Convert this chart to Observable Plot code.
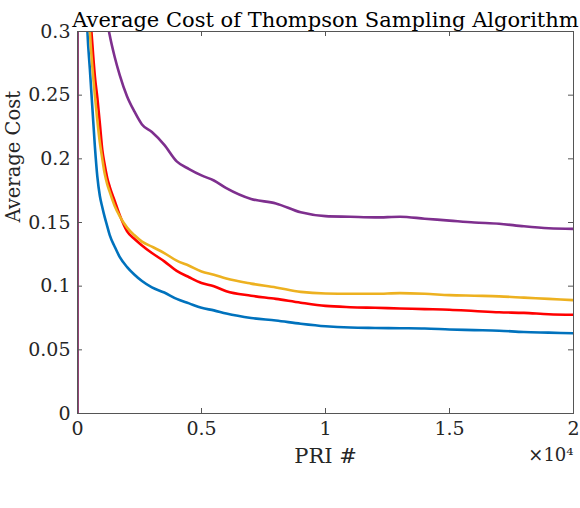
<!DOCTYPE html>
<html><head><meta charset="utf-8">
<script src="https://cdn.jsdelivr.net/npm/d3@7"></script>
<script src="https://cdn.jsdelivr.net/npm/@observablehq/plot@0.6"></script>
<style>
body{margin:0;background:#fff}
#chart svg{font-family:"DejaVu Serif", serif; background:#fff}
</style>
</head><body><div id="chart"></div>
<script>
// PRI sample positions
const pri = [0, 1, 150, 300, 400, 500, 600, 700, 800, 900, 1000, 1100, 1200, 1300, 1500, 1700, 2000, 2300, 2600, 3000, 3500, 4000, 4500, 5000, 5500, 6000, 7000, 8000, 9000, 10000, 11000, 12000, 13000, 14000, 15000, 16000, 17000, 18000, 19000, 20000];
// Average cost, series 1..4
const costBlue   = [0, 1.0, 0.60, 0.36, 0.30, 0.27, 0.24, 0.21, 0.186, 0.171, 0.162, 0.154, 0.147, 0.140, 0.131, 0.123, 0.115, 0.109, 0.104, 0.099, 0.095, 0.090, 0.0865, 0.083, 0.081, 0.0785, 0.075, 0.073, 0.0705, 0.0685, 0.0675, 0.0672, 0.067, 0.0668, 0.066, 0.0655, 0.065, 0.064, 0.0635, 0.063];
const costRed    = [0, 1.0, 0.85, 0.50, 0.38, 0.32, 0.29, 0.265, 0.248, 0.228, 0.207, 0.195, 0.185, 0.178, 0.167, 0.156, 0.143, 0.137, 0.132, 0.126, 0.1195, 0.112, 0.107, 0.1025, 0.100, 0.096, 0.0925, 0.090, 0.087, 0.0845, 0.0835, 0.083, 0.0825, 0.082, 0.0815, 0.0805, 0.0795, 0.079, 0.078, 0.0775];
const costYellow = [0, 1.0, 0.80, 0.45, 0.35, 0.30, 0.272, 0.25, 0.23, 0.213, 0.200, 0.188, 0.180, 0.174, 0.163, 0.155, 0.146, 0.140, 0.135, 0.131, 0.126, 0.120, 0.116, 0.1115, 0.109, 0.106, 0.102, 0.099, 0.0955, 0.0942, 0.094, 0.094, 0.0945, 0.094, 0.093, 0.0925, 0.092, 0.091, 0.090, 0.089];
const costPurple = [0, 1.0, 0.95, 0.75, 0.62, 0.54, 0.48, 0.43, 0.40, 0.37, 0.345, 0.325, 0.308, 0.297, 0.280, 0.266, 0.249, 0.237, 0.227, 0.221, 0.211, 0.198, 0.192, 0.187, 0.183, 0.177, 0.1685, 0.165, 0.158, 0.155, 0.1545, 0.154, 0.1545, 0.153, 0.1515, 0.150, 0.149, 0.147, 0.1455, 0.145];
const seriesColors = ["#0072BD", "#FF0000", "#EDB120", "#7E2F8E"];
const xTicks = [0, 5000, 10000, 15000, 20000];
const yTicks = [0, 0.05, 0.1, 0.15, 0.2, 0.25, 0.3];
const titleText = "Average Cost of Thompson Sampling Algorithm";
const xLabel = "PRI #";
const yLabel = "Average Cost";
const xMult = "×10⁴";

const W = 580, H = 508;
const mL = 77, mR = 7, mT = 31, mB = 95;
const pw = W - mL - mR, ph = H - mT - mB;

const series = [costBlue, costRed, costYellow, costPurple];
const lineMarks = series.map((vals, i) =>
  Plot.line(pri.map((p, j) => ({x: p, y: vals[j]})), {x: "x", y: "y", stroke: seriesColors[i], strokeWidth: 2.6, clip: true, strokeLinejoin: "round", curve: "monotone-x"})
);
const axisColor = "#555";
const fs = 19;

const chart = Plot.plot({
  width: W, height: H,
  marginLeft: mL, marginRight: mR, marginTop: mT, marginBottom: mB,
  style: {fontSize: fs + "px", color: "#262626"},
  x: {domain: [0, 20000]},
  y: {domain: [0, 0.3]},
  marks: [
    ...lineMarks,
    Plot.frame({stroke: axisColor, strokeWidth: 1}),
    Plot.tickX(xTicks, {x: d => d, insetTop: ph - 5, stroke: axisColor}),
    Plot.tickX(xTicks, {x: d => d, insetBottom: ph - 5, stroke: axisColor}),
    Plot.tickY(yTicks, {y: d => d, insetRight: pw - 5, stroke: axisColor}),
    Plot.tickY(yTicks, {y: d => d, insetLeft: pw - 5, stroke: axisColor}),
    Plot.axisX(xTicks, {tickSize: 0, tickPadding: 8, tickFormat: d => String(d / 1e4), fontSize: fs, label: null, fill: "#262626"}),
    Plot.axisY(yTicks, {tickSize: 0, tickPadding: 7, tickFormat: d => String(+d.toFixed(2)), fontSize: fs, label: null, fill: "#262626"}),
    Plot.text([titleText], {frameAnchor: "top", dy: -19, fontSize: 21, fill: "#000"}),
    Plot.text([xLabel], {frameAnchor: "bottom", dy: 49, fontSize: 21, fill: "#262626"}),
    Plot.text([xMult], {frameAnchor: "bottom-right", dy: 47, textAnchor: "end", fontSize: fs - 1, fill: "#262626"}),
    Plot.text([yLabel], {frameAnchor: "left", dx: -64, rotate: -90, fontSize: 19.5, fill: "#262626"})
  ]
});
document.getElementById("chart").appendChild(chart);
</script>
</body></html>
